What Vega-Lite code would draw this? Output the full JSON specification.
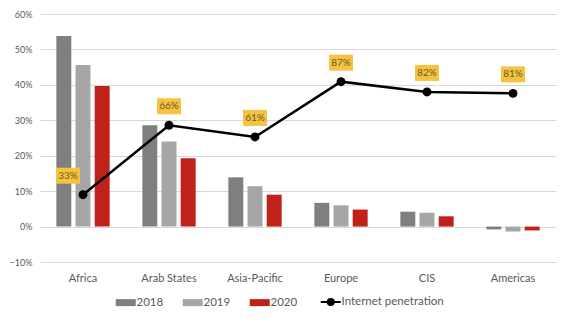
{
  "$schema": "https://vega.github.io/schema/vega-lite/v6.json",
  "width": 516,
  "height": 248,
  "autosize": {"type": "none"},
  "padding": {"left": 40, "top": 14, "right": 14, "bottom": 70},
  "background": "white",
  "config": {
    "view": {"stroke": null},
    "font": "Lato",
    "axis": {"labelColor": "#595959", "labelFont": "Lato", "domain": false, "ticks": false, "title": null}
  },
  "data": {
    "values": [
      {"region": "Africa", "series": "2018", "value": 0.538},
      {"region": "Africa", "series": "2019", "value": 0.456},
      {"region": "Africa", "series": "2020", "value": 0.397},
      {"region": "Arab States", "series": "2018", "value": 0.286},
      {"region": "Arab States", "series": "2019", "value": 0.240},
      {"region": "Arab States", "series": "2020", "value": 0.193},
      {"region": "Asia-Pacific", "series": "2018", "value": 0.139},
      {"region": "Asia-Pacific", "series": "2019", "value": 0.114},
      {"region": "Asia-Pacific", "series": "2020", "value": 0.090},
      {"region": "Europe", "series": "2018", "value": 0.067},
      {"region": "Europe", "series": "2019", "value": 0.060},
      {"region": "Europe", "series": "2020", "value": 0.048},
      {"region": "CIS", "series": "2018", "value": 0.042},
      {"region": "CIS", "series": "2019", "value": 0.039},
      {"region": "CIS", "series": "2020", "value": 0.029},
      {"region": "Americas", "series": "2018", "value": -0.008},
      {"region": "Americas", "series": "2019", "value": -0.014},
      {"region": "Americas", "series": "2020", "value": -0.011},
      {"region": "Africa", "series": "Internet penetration", "value": 0.090, "label": "33%"},
      {"region": "Arab States", "series": "Internet penetration", "value": 0.286, "label": "66%"},
      {"region": "Asia-Pacific", "series": "Internet penetration", "value": 0.253, "label": "61%"},
      {"region": "Europe", "series": "Internet penetration", "value": 0.409, "label": "87%"},
      {"region": "CIS", "series": "Internet penetration", "value": 0.380, "label": "82%"},
      {"region": "Americas", "series": "Internet penetration", "value": 0.376, "label": "81%"}
    ]
  },
  "encoding": {
    "x": {
      "field": "region",
      "type": "nominal",
      "sort": ["Africa", "Arab States", "Asia-Pacific", "Europe", "CIS", "Americas"],
      "scale": {"paddingInner": 0.38, "paddingOuter": 0.19},
      "axis": {"labelAngle": 0, "labelFontSize": 11, "labelPadding": 10, "grid": false}
    },
    "y": {
      "field": "value",
      "type": "quantitative",
      "scale": {"domain": [-0.1, 0.6], "nice": false},
      "axis": {"format": ".0%", "values": [-0.1, 0, 0.1, 0.2, 0.3, 0.4, 0.5, 0.6], "labelFontSize": 9, "labelPadding": 8, "gridColor": "#d9d9d9", "gridWidth": 1}
    }
  },
  "layer": [
    {
      "transform": [{"filter": "datum.series !== 'Internet penetration'"}],
      "mark": {"type": "bar"},
      "encoding": {
        "xOffset": {"field": "series", "type": "nominal", "scale": {"paddingInner": 0.22}},
        "color": {
          "field": "series",
          "type": "nominal",
          "scale": {"domain": ["2018", "2019", "2020", "Internet penetration"], "range": ["#7f7f7f", "#a6a6a6", "#c0211b", "#000000"]},
          "legend": {
            "title": null,
            "orient": "none",
            "direction": "horizontal",
            "legendX": 80,
            "legendY": 282,
            "labelFontSize": 11.5,
            "labelColor": "#595959",
            "labelFont": "Lato",
            "symbolSize": 400,
            "labelOffset": 5,
            "columnPadding": 18,
            "encode": {
              "symbols": {
                "update": {
                  "shape": {"signal": "datum.value === 'Internet penetration' ? 'M-1,0H1M0.3,0A0.3,0.3,0,1,1,-0.3,0A0.3,0.3,0,1,1,0.3,0Z' : 'M-1,-0.35H1V0.35H-1Z'"},
                  "fill": {"signal": "datum.value === '2018' ? '#7f7f7f' : datum.value === '2019' ? '#a6a6a6' : datum.value === '2020' ? '#c0211b' : '#000000'"},
                  "stroke": {"value": "#000000"},
                  "strokeWidth": {"signal": "datum.value === 'Internet penetration' ? 2 : 0"},
                  "opacity": {"value": 1},
                  "fillOpacity": {"value": 1},
                  "strokeOpacity": {"value": 1}
                }
              }
            }
          }
        }
      }
    },
    {
      "transform": [{"filter": "datum.series === 'Internet penetration'"}],
      "mark": {"type": "line", "strokeWidth": 2.5},
      "encoding": {
        "color": {"field": "series", "type": "nominal"}
      }
    },
    {
      "transform": [{"filter": "datum.series === 'Internet penetration'"}],
      "mark": {"type": "point", "filled": true, "size": 80, "color": "#000000", "opacity": 1},
      "encoding": {}
    },
    {
      "transform": [{"filter": "datum.series === 'Internet penetration' && datum.region !== 'Africa'"}],
      "mark": {"type": "point", "filled": true, "shape": "M-1.5,-1H1.5V1H-1.5Z", "size": 256, "color": "#f5c242", "opacity": 1, "yOffset": -19},
      "encoding": {}
    },
    {
      "transform": [{"filter": "datum.series === 'Internet penetration' && datum.region === 'Africa'"}],
      "mark": {"type": "point", "filled": true, "shape": "M-1.5,-1H1.5V1H-1.5Z", "size": 256, "color": "#f5c242", "opacity": 1, "yOffset": -19, "xOffset": -15},
      "encoding": {}
    },
    {
      "transform": [{"filter": "datum.series === 'Internet penetration' && datum.region !== 'Africa'"}],
      "mark": {"type": "text", "fontSize": 10, "color": "#6b5b1f", "yOffset": -19, "baseline": "middle", "align": "center"},
      "encoding": {"text": {"field": "label", "type": "nominal"}}
    },
    {
      "transform": [{"filter": "datum.series === 'Internet penetration' && datum.region === 'Africa'"}],
      "mark": {"type": "text", "fontSize": 10, "color": "#6b5b1f", "yOffset": -19, "xOffset": -15, "baseline": "middle", "align": "center"},
      "encoding": {"text": {"field": "label", "type": "nominal"}}
    }
  ]
}
